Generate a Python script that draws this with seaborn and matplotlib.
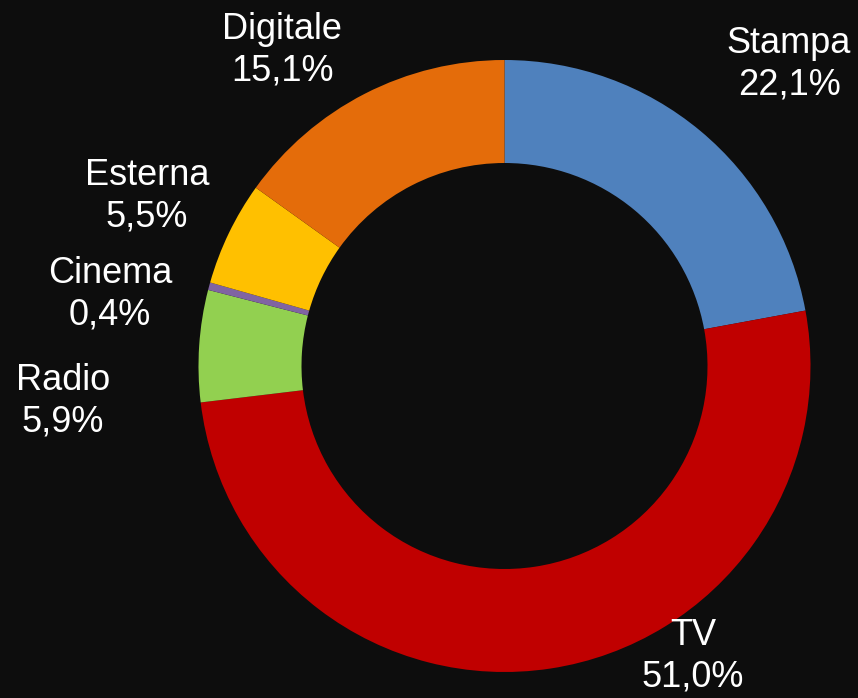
import matplotlib
matplotlib.use("Agg")
import matplotlib.pyplot as plt
import seaborn as sns

categories = ["Stampa", "TV", "Radio", "Cinema", "Esterna", "Digitale"]
values = [22.1, 51.0, 5.9, 0.4, 5.5, 15.1]
value_labels = ["22,1%", "51,0%", "5,9%", "0,4%", "5,5%", "15,1%"]
colors = ["#4f81bd", "#c00000", "#92d050", "#8064a2", "#ffc000", "#e46c0a"]

# label block centres in pixel coordinates (layout)
label_px = [(789, 64), (693, 656), (63, 401), (110, 294), (147, 196), (282, 50)]

BG = "#0d0d0d"
sns.set_theme(style="white")
plt.rcParams["font.family"] = ["Liberation Sans", "DejaVu Sans"]

W, H = 858, 698
cx, cy, R = 504.5, 366.0, 306.0
fig = plt.figure(figsize=(W / 100, H / 100), dpi=100, facecolor=BG)
ax = fig.add_axes([0, 0, 1, 1])
ax.set_facecolor(BG)

ax.pie(values, colors=colors, startangle=90, counterclock=False,
       radius=1.0, wedgeprops=dict(width=1 - 203 / 306, linewidth=0))

ax.set_xlim(-cx / R, (W - cx) / R)
ax.set_ylim(-(H - cy) / R, cy / R)
ax.set_aspect("equal")
ax.axis("off")

for cat, lab, (px, py) in zip(categories, value_labels, label_px):
    ax.text((px - cx) / R, (cy - py) / R, f"{cat}\n{lab}", color="white",
            fontsize=26, ha="center", va="center", linespacing=1.25)

fig.savefig("out.png", dpi=100, facecolor=BG)
